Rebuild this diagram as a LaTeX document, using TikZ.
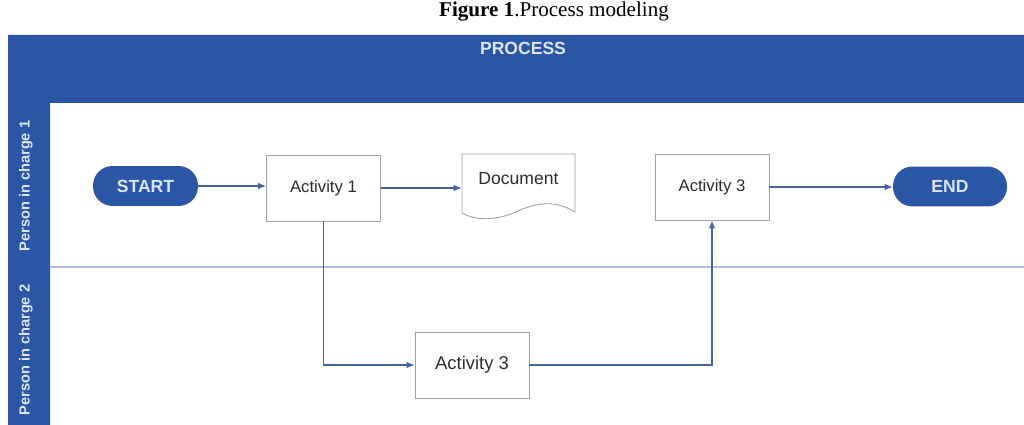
\documentclass[tikz,border=0pt]{standalone}
\usepackage{fontspec}
\setmainfont{Liberation Serif}
\setsansfont{Liberation Sans}
\usepackage{xcolor}
\usepackage{tikz}
\usetikzlibrary{arrows.meta}

\definecolor{laneblue}{RGB}{43,86,166}
\definecolor{lanetext}{RGB}{218,228,245}
\definecolor{flowblue}{RGB}{70,100,165}
\definecolor{boxgray}{RGB}{160,160,165}
\definecolor{boxtext}{RGB}{45,45,45}
\definecolor{divline}{RGB}{170,188,215}

\tikzset{
    terminal/.style={fill=laneblue, rounded corners=0.39cm, minimum height=0.8cm, text=lanetext, font=\sffamily\bfseries\fontsize{10}{12}\selectfont},
    activity/.style={draw=boxgray, line width=0.5pt, fill=white, minimum width=2.28cm, minimum height=1.32cm, text=boxtext, font=\sffamily\fontsize{9.5}{11}\selectfont},
    docnode/.style={minimum width=2.26cm, minimum height=1.18cm, inner sep=0pt},
    flow/.style={draw=flowblue, line width=0.6pt, -{Latex[length=1.6mm,width=1.3mm]}},
    lanelabel/.style={rotate=90, text=lanetext, font=\sffamily\bfseries\fontsize{8.3}{10}\selectfont}
}

\begin{document}
\begin{tikzpicture}[x=0.02cm, y=-0.02cm]
        \useasboundingbox (0,0) rectangle (1024,425);
        \node (title) at (554,12) {\fontsize{12}{14}\selectfont\textbf{Figure 1}.Process modeling};

        % swimlanes
        \fill[laneblue] (8,35) -- (1024,35) -- (1024,103) -- (50,103) -- (50,425) -- (8,425) -- cycle;
        \node[text=lanetext, font=\sffamily\bfseries\fontsize{10}{12}\selectfont] (head) at (523,48) {PROCESS};
        \draw[divline, line width=0.8pt] (50,267) -- (1024,267);
        \node[lanelabel] (lane1) at (26,186) {Person in charge 1};
        \node[lanelabel] (lane2) at (26,350) {Person in charge 2};

        \node[terminal, minimum width=2.1cm] (start) at (145.5,186) {START};
        \node[activity] (act1) at (323.5,188) {Activity 1};

        \node[docnode] (doc) at (518.5,183.5) {};
        \draw[draw=boxgray, line width=0.5pt, fill=white] (462,213) -- (462,154) -- (575,154) -- (575,212)
            .. controls (560,203) and (545,200) .. (520,210) .. controls (500,220) and (478,222) .. (462,213);
        \node[text=boxtext, font=\sffamily\fontsize{10}{12}\selectfont] (doctext) at (518.5,179) {Document};

        \node[activity] (act3t) at (712,187) {Activity 3};
        \node[terminal, minimum width=2.28cm] (end) at (950,186.5) {END};
        \node[activity, font=\sffamily\fontsize{10.5}{12}\selectfont] (act3b) at (472,365) {Activity 3};

        \draw[flow] (start.east) -- (start.east -| act1.west);
        \draw[flow] (act1.east) -- (act1.east -| doc.west);
        \draw[flow] (act3t.east) -- (act3t.east -| end.west);
        \draw[flow] (act1.south) |- (act3b.west);
        \draw[flow] (act3b.east) -| (act3t.south);
    \end{tikzpicture}
\end{document}
